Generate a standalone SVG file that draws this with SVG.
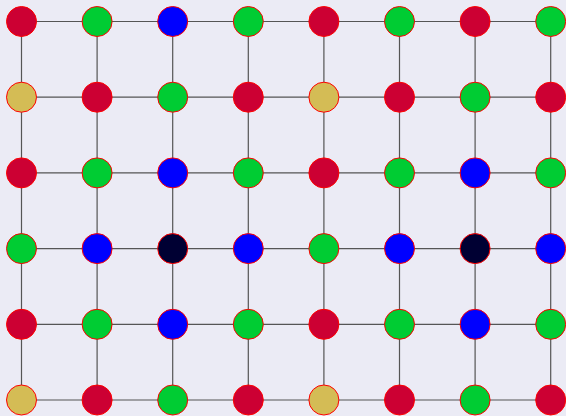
<svg xmlns="http://www.w3.org/2000/svg" width="566" height="416" viewBox="0 0 566 416">
<style>
.e{stroke:#555;stroke-width:1.2;fill:none}
circle{stroke:#ff0000;stroke-width:1}
.r{fill:#cc0033}.g{fill:#00cc33}.b{fill:#0000ff}.k{fill:#000033}.y{fill:#d4bc55}
</style>
<rect width="566" height="416" fill="#ebebf5"/>
<g id="edges">
<path class="e" d="M21.5 21.5H551M21.5 97.2H551M21.5 172.9H551M21.5 248.6H551M21.5 324.3H551M21.5 400H551M21.5 21.5V400M97.1 21.5V400M172.7 21.5V400M248.3 21.5V400M323.9 21.5V400M399.5 21.5V400M475.1 21.5V400M550.7 21.5V400"/>
</g>
<g id="n0_0"><circle class="r" cx="21.5" cy="21.5" r="15"/></g>
<g id="n0_1"><circle class="g" cx="97.1" cy="21.5" r="15"/></g>
<g id="n0_2"><circle class="b" cx="172.7" cy="21.5" r="15"/></g>
<g id="n0_3"><circle class="g" cx="248.3" cy="21.5" r="15"/></g>
<g id="n0_4"><circle class="r" cx="323.9" cy="21.5" r="15"/></g>
<g id="n0_5"><circle class="g" cx="399.5" cy="21.5" r="15"/></g>
<g id="n0_6"><circle class="r" cx="475.1" cy="21.5" r="15"/></g>
<g id="n0_7"><circle class="g" cx="550.7" cy="21.5" r="15"/></g>
<g id="n1_0"><circle class="y" cx="21.5" cy="97.2" r="15"/></g>
<g id="n1_1"><circle class="r" cx="97.1" cy="97.2" r="15"/></g>
<g id="n1_2"><circle class="g" cx="172.7" cy="97.2" r="15"/></g>
<g id="n1_3"><circle class="r" cx="248.3" cy="97.2" r="15"/></g>
<g id="n1_4"><circle class="y" cx="323.9" cy="97.2" r="15"/></g>
<g id="n1_5"><circle class="r" cx="399.5" cy="97.2" r="15"/></g>
<g id="n1_6"><circle class="g" cx="475.1" cy="97.2" r="15"/></g>
<g id="n1_7"><circle class="r" cx="550.7" cy="97.2" r="15"/></g>
<g id="n2_0"><circle class="r" cx="21.5" cy="172.9" r="15"/></g>
<g id="n2_1"><circle class="g" cx="97.1" cy="172.9" r="15"/></g>
<g id="n2_2"><circle class="b" cx="172.7" cy="172.9" r="15"/></g>
<g id="n2_3"><circle class="g" cx="248.3" cy="172.9" r="15"/></g>
<g id="n2_4"><circle class="r" cx="323.9" cy="172.9" r="15"/></g>
<g id="n2_5"><circle class="g" cx="399.5" cy="172.9" r="15"/></g>
<g id="n2_6"><circle class="b" cx="475.1" cy="172.9" r="15"/></g>
<g id="n2_7"><circle class="g" cx="550.7" cy="172.9" r="15"/></g>
<g id="n3_0"><circle class="g" cx="21.5" cy="248.6" r="15"/></g>
<g id="n3_1"><circle class="b" cx="97.1" cy="248.6" r="15"/></g>
<g id="n3_2"><circle class="k" cx="172.7" cy="248.6" r="15"/></g>
<g id="n3_3"><circle class="b" cx="248.3" cy="248.6" r="15"/></g>
<g id="n3_4"><circle class="g" cx="323.9" cy="248.6" r="15"/></g>
<g id="n3_5"><circle class="b" cx="399.5" cy="248.6" r="15"/></g>
<g id="n3_6"><circle class="k" cx="475.1" cy="248.6" r="15"/></g>
<g id="n3_7"><circle class="b" cx="550.7" cy="248.6" r="15"/></g>
<g id="n4_0"><circle class="r" cx="21.5" cy="324.3" r="15"/></g>
<g id="n4_1"><circle class="g" cx="97.1" cy="324.3" r="15"/></g>
<g id="n4_2"><circle class="b" cx="172.7" cy="324.3" r="15"/></g>
<g id="n4_3"><circle class="g" cx="248.3" cy="324.3" r="15"/></g>
<g id="n4_4"><circle class="r" cx="323.9" cy="324.3" r="15"/></g>
<g id="n4_5"><circle class="g" cx="399.5" cy="324.3" r="15"/></g>
<g id="n4_6"><circle class="b" cx="475.1" cy="324.3" r="15"/></g>
<g id="n4_7"><circle class="g" cx="550.7" cy="324.3" r="15"/></g>
<g id="n5_0"><circle class="y" cx="21.5" cy="400" r="15"/></g>
<g id="n5_1"><circle class="r" cx="97.1" cy="400" r="15"/></g>
<g id="n5_2"><circle class="g" cx="172.7" cy="400" r="15"/></g>
<g id="n5_3"><circle class="r" cx="248.3" cy="400" r="15"/></g>
<g id="n5_4"><circle class="y" cx="323.9" cy="400" r="15"/></g>
<g id="n5_5"><circle class="r" cx="399.5" cy="400" r="15"/></g>
<g id="n5_6"><circle class="g" cx="475.1" cy="400" r="15"/></g>
<g id="n5_7"><circle class="r" cx="550.7" cy="400" r="15"/></g>
</svg>
